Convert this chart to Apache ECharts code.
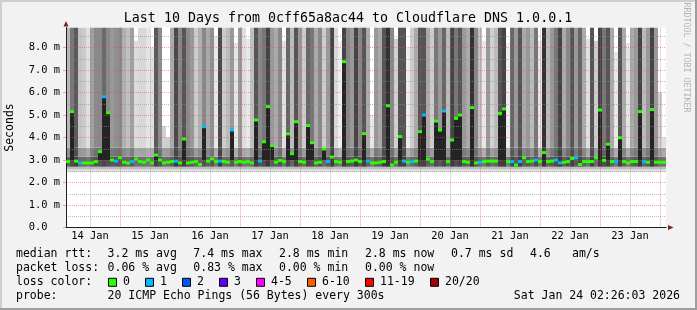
<!DOCTYPE html>
<html>
<head>
<meta charset="utf-8">
<script src="https://cdn.jsdelivr.net/npm/echarts@6.0.0/dist/echarts.min.js"></script>
<style>
html,body{margin:0;padding:0;background:#f2f2f2;overflow:hidden}
#chart{width:697px;height:310px}
</style>
</head>
<body>
<div id="chart"></div>
<script>
// ================= DATA =================
// 150 columns of 1.6 h each, Jan 14 02:26 .. Jan 24 02:26
const titleText = 'Last 10 Days from 0cff65a8ac44 to Cloudflare DNS 1.0.0.1';
const unitText = 'Seconds';
const dayLabels = ['14 Jan','15 Jan','16 Jan','17 Jan','18 Jan','19 Jan','20 Jan','21 Jan','22 Jan','23 Jan'];

// median rtt per column (ms)
const median = [
 2.93,5.15,2.95,2.87,2.87,2.87,2.87,2.93,3.37,5.81,5.10,3.00,2.95,3.10,2.90,2.87,2.93,3.04,2.93,2.90,3.00,2.87,3.22,3.00,2.87,
 2.90,2.93,2.95,2.87,3.93,2.87,2.90,2.93,2.80,4.48,2.95,3.05,2.93,2.95,2.93,2.90,4.33,2.90,2.93,2.90,2.93,2.87,4.78,2.95,3.81,
 5.37,3.64,2.90,2.98,2.93,4.16,3.28,4.70,2.93,2.90,4.53,3.77,2.87,2.90,3.49,2.93,3.13,2.93,2.90,7.37,2.93,2.95,3.00,2.93,4.17,
 2.95,2.87,2.87,2.90,2.93,5.41,2.78,2.90,4.04,2.95,2.90,2.93,2.95,4.26,5.00,3.04,2.93,4.73,4.33,5.18,2.93,3.89,4.85,5.00,2.93,
 2.90,5.33,2.87,2.90,2.93,2.95,2.95,2.95,5.07,5.27,2.93,2.93,2.78,2.93,3.10,2.93,2.95,3.00,2.93,3.33,2.93,2.95,3.00,2.87,2.90,
 2.93,3.07,3.10,2.80,2.93,2.93,2.93,3.10,5.22,2.98,3.70,2.93,2.93,3.99,2.93,2.87,2.93,2.93,5.15,2.93,2.90,5.24,2.90,2.90,2.90
];
// lost pings per column (index into lossColors)
const lostPings = [
 0,0,0,1,0,0,0,0,0,1,0,0,1,0,0,0,1,0,0,0,0,0,0,0,0,
 0,0,1,0,0,0,0,0,0,1,0,0,0,1,0,0,1,0,0,0,0,0,0,1,0,
 0,0,0,0,0,0,0,0,0,0,0,0,0,0,0,1,0,0,0,0,0,0,0,0,0,
 1,0,0,0,0,0,0,0,0,1,0,1,0,0,1,0,0,0,0,1,0,0,0,0,0,
 0,0,0,1,0,0,0,0,0,0,0,1,0,1,0,0,0,1,0,0,0,0,1,1,0,
 0,0,1,0,0,0,0,0,0,0,0,0,1,0,0,0,0,0,0,1,0,0,0,0,0
];
// top of the smoke in each column (ms)
const smokeTop = [
 8.88,8.88,8.88,8.88,8.88,8.88,8.88,8.88,8.88,8.88,8.88,8.88,8.88,8.88,8.88,8.88,8.88,8.30,8.88,8.88,8.88,8.00,8.88,8.88,4.50,
 4.00,8.88,8.88,8.88,8.88,8.88,8.88,8.88,8.88,8.88,8.88,8.88,8.50,8.88,8.88,8.88,8.88,8.20,8.88,8.88,8.40,8.88,8.88,8.88,8.88,
 8.88,8.88,8.88,8.88,8.30,8.88,8.88,8.88,8.88,8.88,8.88,8.88,8.88,8.88,8.88,8.88,8.88,8.88,8.30,8.88,8.88,8.88,8.88,8.88,8.88,
 8.88,5.00,8.88,8.88,8.88,8.88,8.88,8.40,8.88,8.88,8.00,8.88,8.88,8.88,8.88,8.88,8.88,8.88,8.88,8.88,8.88,8.88,8.88,8.88,8.88,
 8.88,8.88,8.88,8.88,8.30,8.88,8.88,8.88,8.88,8.88,8.20,8.88,8.88,8.88,8.88,8.88,8.88,8.88,8.30,8.88,8.88,8.88,8.88,8.88,8.88,
 8.88,8.88,8.88,8.88,8.88,8.40,8.88,8.30,8.88,8.88,8.88,8.88,7.80,8.88,8.88,8.20,8.88,8.88,8.88,8.88,8.88,8.88,8.88,6.00,4.00
];
// grey level of the smoke in each column (0 = black, 255 = white)
const smokeShade = [
 184,119,90,196,202,224,160,138,136,106,138,153,144,138,176,192,160,220,216,216,228,224,90,140,208,
 204,170,74,136,85,138,153,204,176,136,170,144,232,74,204,187,153,228,153,221,232,192,85,136,119,
 68,153,170,136,224,102,187,85,153,204,102,119,170,136,204,153,68,216,238,68,136,153,68,136,85,
 170,232,153,170,85,51,136,208,85,85,238,204,170,85,85,170,204,119,153,102,187,68,119,85,153,
 170,51,136,192,232,153,208,187,85,68,238,102,153,85,170,153,187,119,232,51,187,153,119,68,170,
 136,85,153,102,170,224,85,204,68,119,85,170,232,85,170,228,170,153,68,187,153,68,153,208,224
];
const lossColors = ['#26ff00','#00b8ff','#0059ff','#5e00ff','#ff00ff','#ff5e00','#ff0000','#a10000'];
const lossLabels = ['0','1','2','3','4-5','6-10','11-19','20/20'];
const medianStats = ['3.2 ms avg','7.4 ms max','2.8 ms min','2.8 ms now','0.7 ms sd','4.6','am/s'];
const lossStats = ['0.06 % avg','0.83 % max','0.00 % min','0.00 % now'];
const probeText = '20 ICMP Echo Pings (56 Bytes) every 300s';
const stampText = 'Sat Jan 24 02:26:03 2026';
const watermark = 'RRDTOOL / TOBI OETIKER';

// smoke layer limits (ms)
const SMOKE_FLOOR = 2.45, FRINGE_1 = 2.58, FRINGE_2 = 2.70, CORE_TOP = 3.15, INNER_TOP = 3.55;
const SPIKE_BASE = 3.0, SPIKE_MIN = 3.2;

// ================= LAYOUT / STYLE =================
const MONO = '"DejaVu Sans Mono", monospace';
const GRID_C = 'rgba(143,143,143,0.6)';
const MGRID_C = 'rgba(222,79,79,0.5)';
const AXIS_C = '#1f1f1f';
const ARROW_C = '#801f1f';
const PX_PER_MS = 22.5;
const PLOT = {left: 66, top: 27.5, width: 600, height: 200};
const YMAX = PLOT.height / PX_PER_MS;
const HOURS_BEFORE = 2 + 26/60;           // first column starts 02:26 on Jan 14
const PX_PER_H = PLOT.width / 240;
const GRID2_LEFT = PLOT.left - HOURS_BEFORE * PX_PER_H;
const XMAX = (PLOT.left + PLOT.width - GRID2_LEFT) / PX_PER_H;

const cats = median.map((_, i) => String(i));
const grey = s => 'rgb(' + s + ',' + s + ',' + s + ')';
const coreShade = smokeShade.map(s => Math.round(0.35 * s + 35));
const innerShade = smokeShade.map((s, i) => Math.round((s + coreShade[i]) / 2));

const barBase = {type: 'bar', xAxisIndex: 0, yAxisIndex: 0, barWidth: '100%', barGap: '-100%',
  barCategoryGap: '0%', clip: true, silent: true, animation: false};
const clear = {color: 'rgba(0,0,0,0)'};

const series = [
  Object.assign({}, barBase, {stack: 'smoke', itemStyle: clear, data: median.map(() => SMOKE_FLOOR)}),
  Object.assign({}, barBase, {stack: 'smoke', itemStyle: {color: '#e2e2e2'}, data: median.map(() => FRINGE_1 - SMOKE_FLOOR)}),
  Object.assign({}, barBase, {stack: 'smoke', itemStyle: {color: '#bdbdbd'}, data: median.map(() => FRINGE_2 - FRINGE_1)}),
  Object.assign({}, barBase, {stack: 'smoke', data: coreShade.map(c => ({value: CORE_TOP - FRINGE_2, itemStyle: {color: grey(c)}}))}),
  Object.assign({}, barBase, {stack: 'smoke', data: innerShade.map(c => ({value: INNER_TOP - CORE_TOP, itemStyle: {color: grey(c)}}))}),
  Object.assign({}, barBase, {stack: 'smoke', data: smokeTop.map((t, i) => ({value: t - INNER_TOP, itemStyle: {color: grey(smokeShade[i])}}))}),
  Object.assign({}, barBase, {stack: 'spike', itemStyle: clear, data: median.map(m => m > SPIKE_MIN ? SPIKE_BASE : '-')}),
  Object.assign({}, barBase, {stack: 'spike', itemStyle: {color: '#242424'}, data: median.map(m => m > SPIKE_MIN ? m - SPIKE_BASE : '-')}),
  {type: 'scatter', xAxisIndex: 0, yAxisIndex: 0, symbol: 'rect', symbolSize: [4, 3], z: 6,
   silent: true, animation: false, data: median,
   itemStyle: {color: p => lossColors[lostPings[p.dataIndex]], opacity: 1}}
];

// ---------- graphic text / decorations ----------
const T = (x, y, text, opt) => Object.assign({type: 'text', x: x, y: y, z: 50, silent: true,
  style: Object.assign({text: text, font: '11.5px ' + MONO, fill: '#000', textAlign: 'left', align: 'left',
    textVerticalAlign: 'middle', verticalAlign: 'middle'}, (opt && opt.style) || {})},
  (opt && opt.el) || {});

const graphics = [
  {type: 'rect', z: 1, shape: {x: 0, y: 0, width: 697, height: 2}, style: {fill: '#cfcfcf'}},
  {type: 'rect', z: 1, shape: {x: 0, y: 0, width: 2, height: 310}, style: {fill: '#cfcfcf'}},
  {type: 'rect', z: 1, shape: {x: 0, y: 308, width: 697, height: 2}, style: {fill: '#9e9e9e'}},
  {type: 'rect', z: 1, shape: {x: 695, y: 0, width: 2, height: 310}, style: {fill: '#9e9e9e'}},
  T(348, 19, titleText, {style: {font: '13.3px ' + MONO, textAlign: 'center', align: 'center'}}),
  T(10.5, PLOT.top + PLOT.height / 2, unitText, {style: {textAlign: 'center', align: 'center'}, el: {rotation: Math.PI / 2}}),
  T(686.5, 57.5, watermark, {style: {font: '8.3px ' + MONO, fill: '#b4b4b4', textAlign: 'center', align: 'center'}, el: {rotation: -Math.PI / 2}}),
  // axis arrows
  {type: 'polygon', z: 60, silent: true, shape: {points: [[668, 225], [673.5, 227.5], [668, 230]]}, style: {fill: ARROW_C}},
  {type: 'polygon', z: 60, silent: true, shape: {points: [[63.5, 26.5], [66, 21], [68.5, 26.5]]}, style: {fill: ARROW_C}}
];
// legend rows
const ROW = [254.3, 268.3, 282.3, 296];
const medX = [107.6, 193.3, 279, 365, 451, 530, 572];
graphics.push(T(16, ROW[0], 'median rtt:'));
medianStats.forEach((s, i) => graphics.push(T(medX[i], ROW[0], s)));
graphics.push(T(16, ROW[1], 'packet loss:'));
lossStats.forEach((s, i) => graphics.push(T(medX[i], ROW[1], s)));
graphics.push(T(16, ROW[2], 'loss color:'));
const boxX = [108, 145, 182, 219, 256, 307, 365, 430];
lossLabels.forEach((lab, i) => {
  graphics.push({type: 'rect', z: 50, silent: true, shape: {x: boxX[i] + 0.5, y: ROW[2] - 4, width: 8, height: 8},
    style: {fill: lossColors[i], stroke: '#000', lineWidth: 1}});
  graphics.push(T(boxX[i] + 15, ROW[2], lab));
});
graphics.push(T(16, ROW[3], 'probe:'));
graphics.push(T(107.6, ROW[3], probeText));
graphics.push(T(680, ROW[3], stampText, {style: {textAlign: 'right', align: 'right'}}));

const option = {
  backgroundColor: '#f2f2f2',
  animation: false,
  grid: [
    Object.assign({show: true, backgroundColor: '#ffffff', borderWidth: 0, containLabel: false, outerBoundsMode: 'none'}, PLOT),
    {left: GRID2_LEFT, top: PLOT.top, width: PLOT.width + HOURS_BEFORE * PX_PER_H, height: PLOT.height,
     show: false, containLabel: false, outerBoundsMode: 'none'}
  ],
  xAxis: [
    {gridIndex: 0, type: 'category', data: cats, boundaryGap: true, z: 5,
     axisLine: {show: true, lineStyle: {color: AXIS_C, width: 1}}, axisTick: {show: false},
     axisLabel: {show: false}, splitLine: {show: false}},
    {gridIndex: 1, type: 'value', min: 0, max: XMAX, interval: 12, position: 'bottom', z: 3,
     axisLine: {show: false}, axisTick: {show: false},
     axisLabel: {show: true, margin: 4, color: '#000', fontFamily: MONO, fontSize: 10.4,
       showMinLabel: true, showMaxLabel: false,
       formatter: v => (Math.round(v) % 24 === 12 ? (dayLabels[Math.round((v - 12) / 24)] || '') : '')},
     splitLine: {show: true, showMaxLine: false, lineStyle: {color: ['rgba(0,0,0,0)', GRID_C], width: 1, type: [1, 1]}}},
    {gridIndex: 1, type: 'value', min: 0, max: XMAX, interval: 24, position: 'bottom', z: 4,
     axisLine: {show: false}, axisTick: {show: false}, axisLabel: {show: false},
     splitLine: {show: true, showMinLine: false, showMaxLine: false, lineStyle: {color: MGRID_C, width: 1, type: [1, 1]}}}
  ],
  yAxis: [
    {gridIndex: 0, type: 'value', min: 0, max: YMAX, interval: 1, position: 'left', z: 5,
     axisLine: {show: true, lineStyle: {color: AXIS_C, width: 1}},
     axisTick: {show: true, length: 3, lineStyle: {color: MGRID_C}},
     axisLabel: {show: true, margin: 6, color: '#000', fontFamily: MONO, fontSize: 10.4, showMaxLabel: false,
       formatter: v => (v === 0 ? '0.0  ' : v.toFixed(1) + ' m')},
     splitLine: {show: true, showMinLine: false, showMaxLine: false, lineStyle: {color: MGRID_C, width: 1, type: [1, 1]}}},
    {gridIndex: 0, type: 'value', min: 0, max: YMAX, interval: 0.5, position: 'left', z: 3,
     axisLine: {show: false}, axisTick: {show: false}, axisLabel: {show: false},
     splitLine: {show: true, showMaxLine: false, lineStyle: {color: ['rgba(0,0,0,0)', GRID_C], width: 1, type: [1, 1]}}},
    {gridIndex: 1, type: 'value', min: 0, max: 1, show: false}
  ],
  series: series,
  graphic: {elements: graphics}
};

const chart = echarts.init(document.getElementById('chart'), null, {renderer: 'canvas', width: 697, height: 310});
chart.setOption(option);
</script>
</body>
</html>
